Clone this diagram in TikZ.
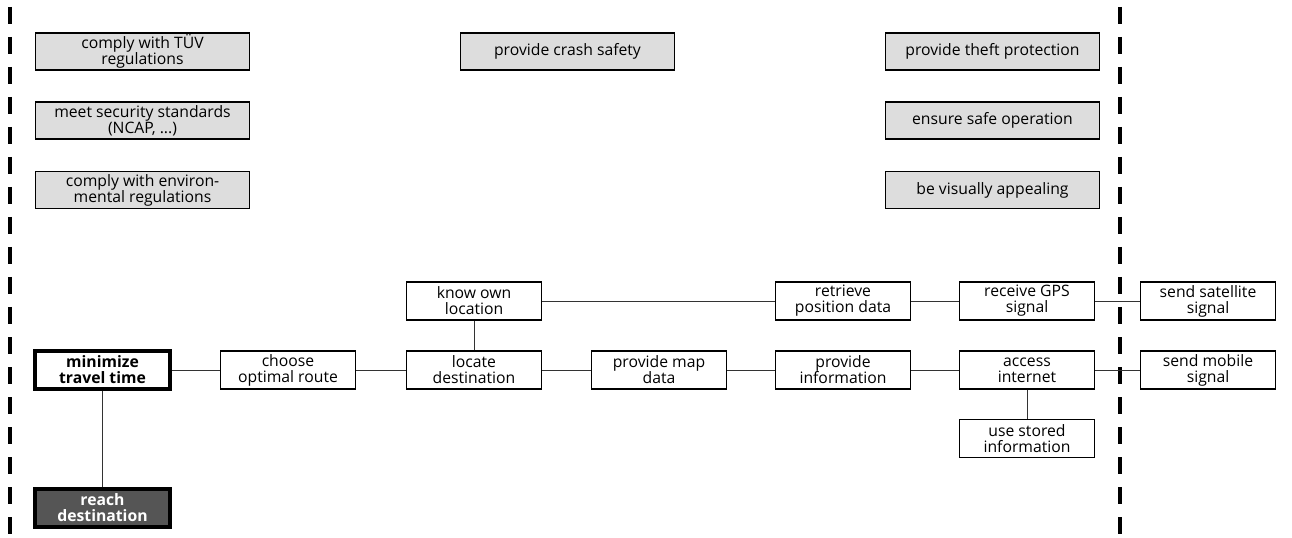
\documentclass[tikz,border=0pt]{standalone}
\usepackage{fontspec}
\setmainfont{Open Sans}
\definecolor{softgray}{HTML}{DDDDDD}
\definecolor{darkfill}{HTML}{555555}
\begin{document}
\begin{tikzpicture}[x=0.75pt,y=-0.75pt,
    box/.style={shape=rectangle,draw=black,line width=0.9pt,minimum width=101pt,minimum height=28.5pt,
      inner sep=1pt,align=center,font=\fontsize{11.8}{12}\selectfont},
    softgoal/.style={box,fill=softgray,minimum width=161pt,minimum height=27.75pt},
    maingoal/.style={box,line width=2.6pt,font=\fontsize{11.8}{12}\selectfont\bfseries},
    topgoal/.style={maingoal,fill=darkfill,text=white},
    link/.style={draw=black!80,line width=0.6pt},
    border/.style={line width=3pt,dash pattern=on 12.75pt off 9.75pt}]
    \useasboundingbox (0,0) rectangle (1292,538);
    % system borders
    \coordinate (lt) at (9.5,7);
    \coordinate (lb) at (9.5,538);
    \coordinate (rt) at (1120,7);
    \coordinate (rb) at (1120,538);
    \draw[border] (lt) -- (lb);
    \draw[border] (rt) -- (rb);
    % soft goals
    \node[softgoal] (tuv) at (142.5,51.5) {comply with TÜV\\regulations};
    \node[softgoal] (ncap) at (142.5,120.5) {meet security standards\\(NCAP, ...)};
    \node[softgoal] (env) at (142.5,190) {comply with environ-\\mental regulations};
    \node[softgoal] (crash) at (567.5,51.5) {provide crash safety};
    \node[softgoal] (theft) at (992.5,51.5) {provide theft protection};
    \node[softgoal] (safe) at (992.5,120.5) {ensure safe operation};
    \node[softgoal] (look) at (992.5,190) {be visually appealing};
    % goals
    \node[topgoal] (reach) at (102.5,508) {reach\\destination};
    \node[maingoal] (time) at (102.5,370) {minimize\\travel time};
    \node[box] (route) at (288,370) {choose\\optimal route};
    \node[box] (locate) at (474,370) {locate\\destination};
    \node[box] (own) at (474,301) {know own\\location};
    \node[box] (map) at (659,370) {provide map\\data};
    \node[box] (info) at (843,370) {provide\\information};
    \node[box] (pos) at (843,301) {retrieve\\position data};
    \node[box] (gps) at (1027,301) {receive GPS\\signal};
    \node[box] (web) at (1027,370) {access\\internet};
    \node[box] (store) at (1027,438.5) {use stored\\information};
    \node[box] (sat) at (1208,301) {send satellite\\signal};
    \node[box] (mobile) at (1208,370) {send mobile\\signal};
    % links
    \path[link] (time) edge (reach);
    \path[link] (time) edge (route);
    \path[link] (route) edge (locate);
    \path[link] (locate) edge (own);
    \path[link] (locate) edge (map);
    \path[link] (map) edge (info);
    \path[link] (info) edge (web);
    \path[link] (web) edge (store);
    \path[link] (web) edge (mobile);
    \path[link] (own) edge (pos);
    \path[link] (pos) edge (gps);
    \path[link] (gps) edge (sat);
\end{tikzpicture}
\end{document}
